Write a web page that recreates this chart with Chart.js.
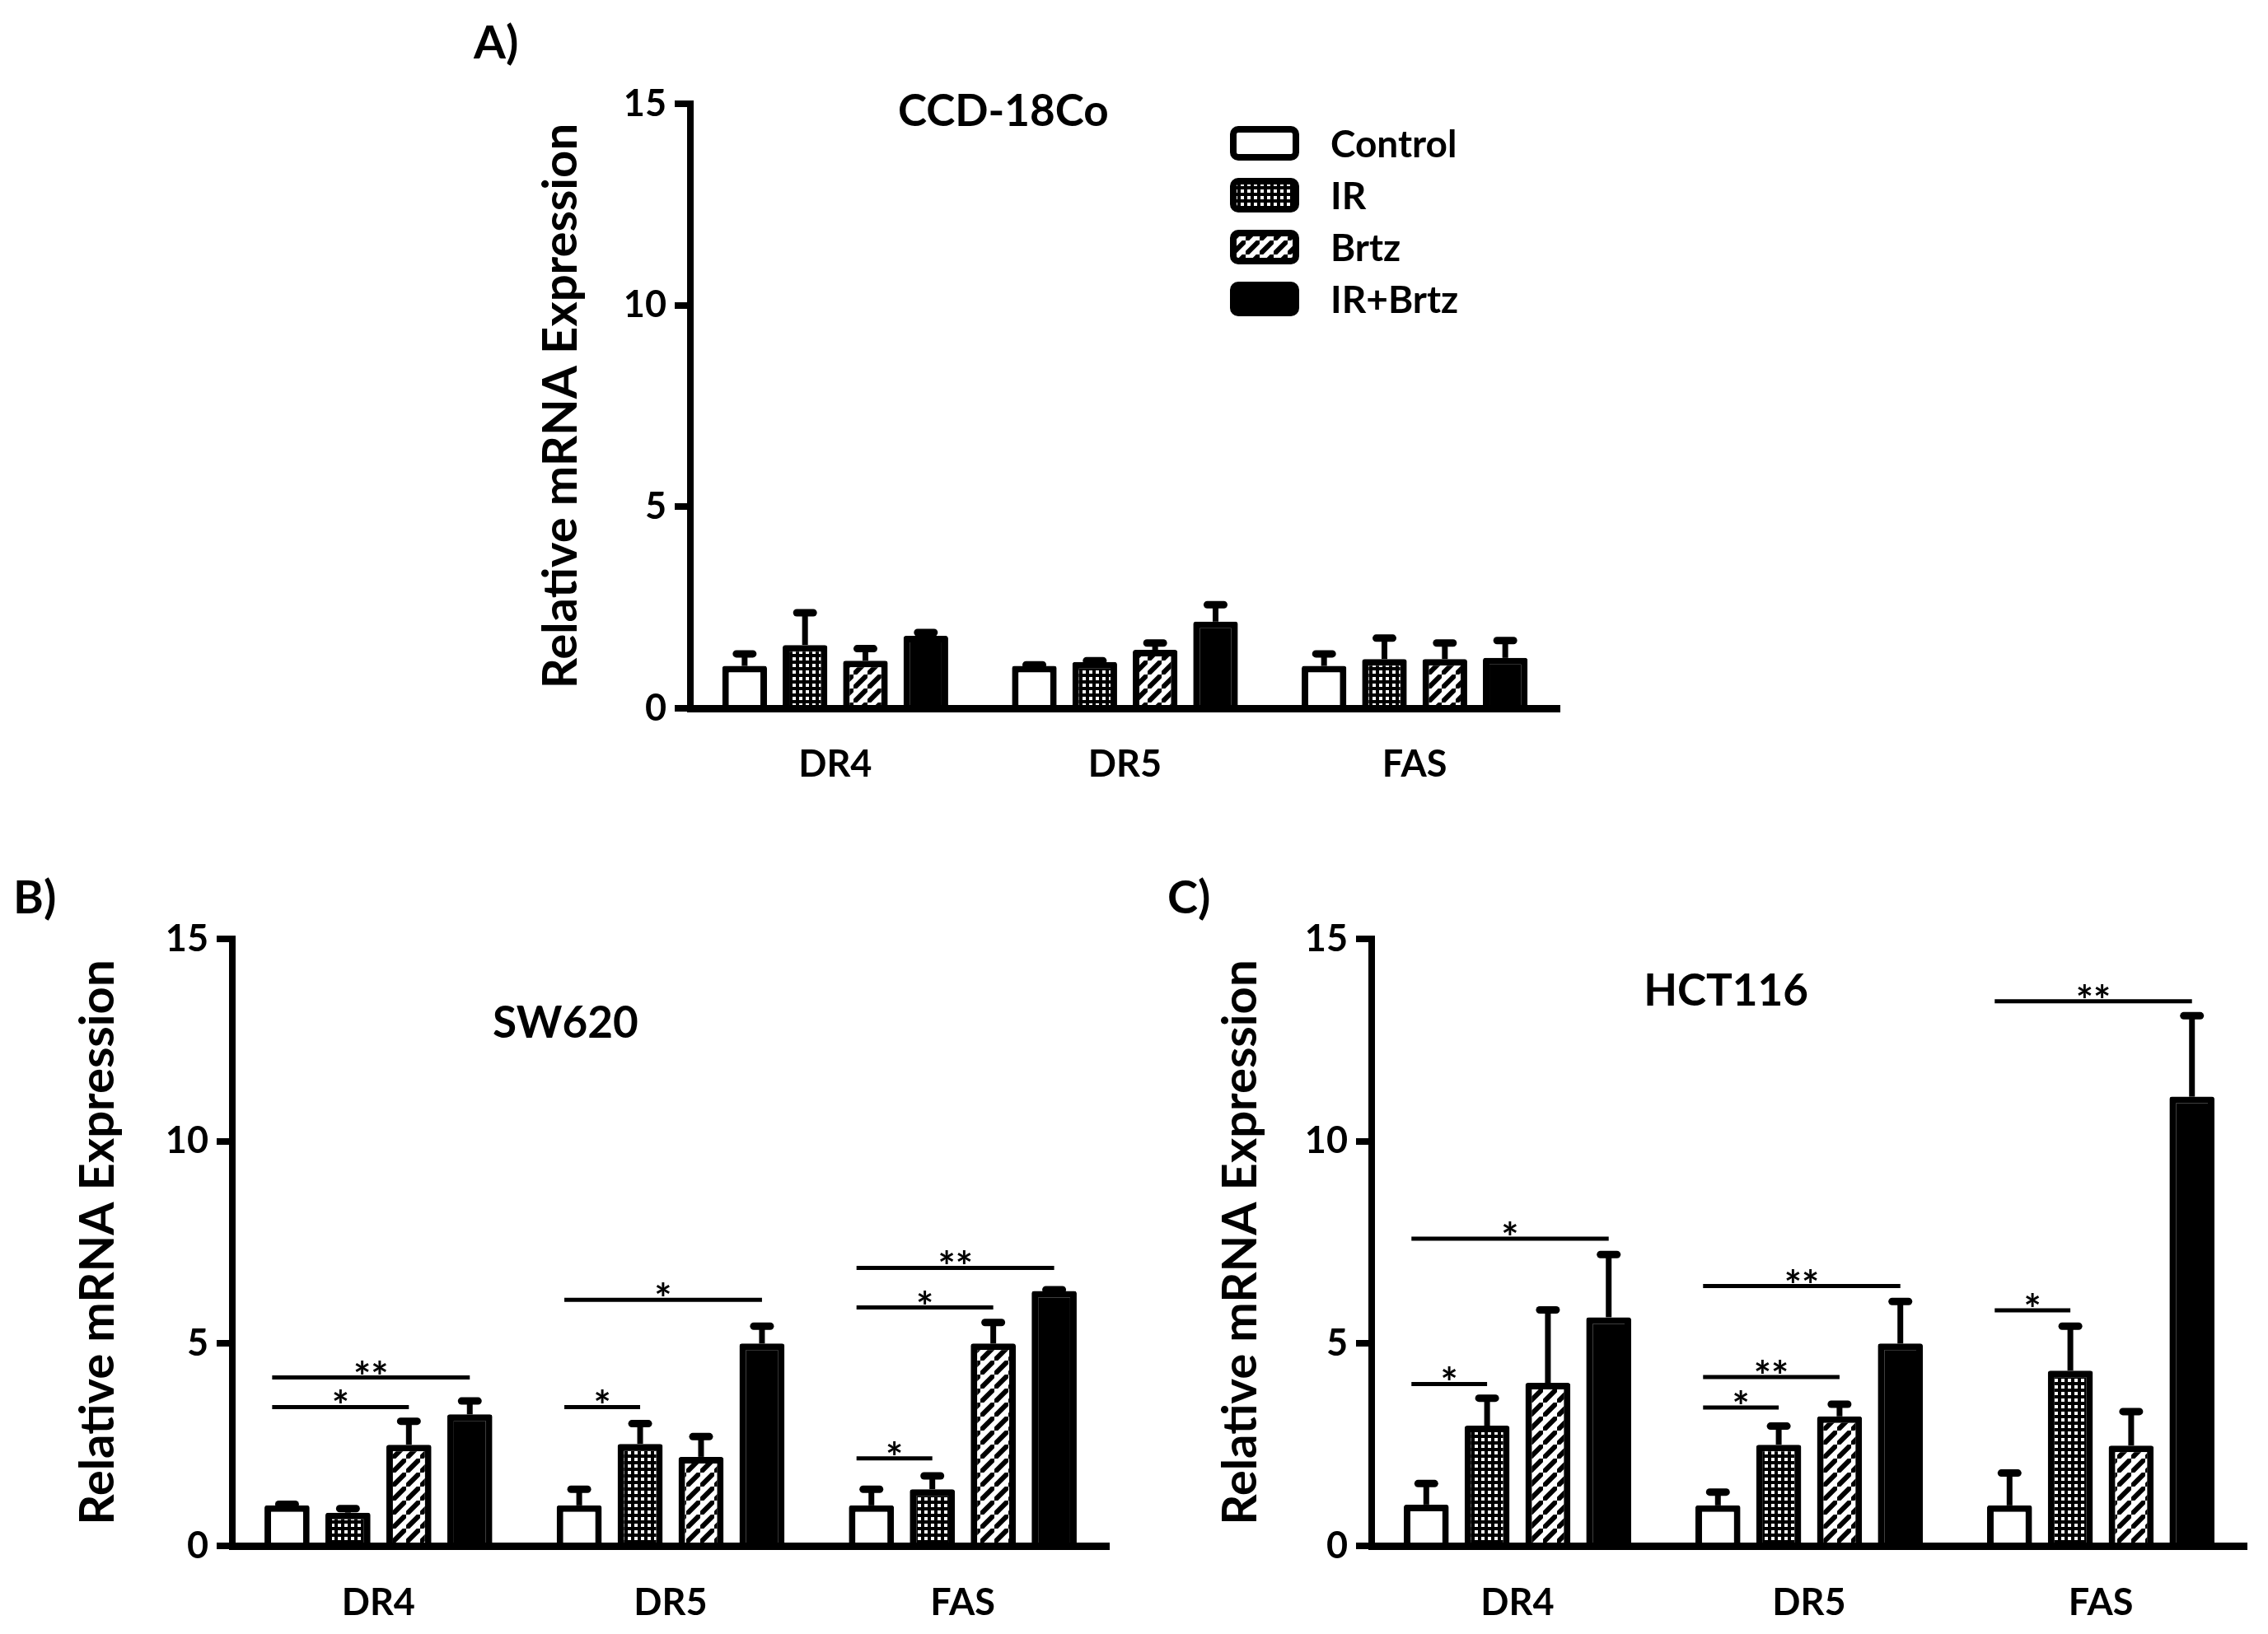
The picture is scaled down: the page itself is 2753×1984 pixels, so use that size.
<!DOCTYPE html>
<html>
<head>
<meta charset="utf-8">
<script src="https://cdn.jsdelivr.net/npm/chart.js@4.4.1/dist/chart.umd.min.js"></script>
<style>
html, body { margin: 0; padding: 0; background: #fff; }
body { width: 2753px; height: 1984px; position: relative; overflow: hidden; }
canvas { position: absolute; }
.panel { position: absolute; font: bold 56px Lato, sans-serif; color: #000; line-height: 1; }
</style>
</head>
<body>
<div class="panel" style="left:575px;top:22px">A)</div>
<div class="panel" style="left:16px;top:1060px">B)</div>
<div class="panel" style="left:1417px;top:1060px">C)</div>
<canvas id="chartA" width="1380" height="960" style="left:560px;top:20px"></canvas>
<canvas id="chartB" width="1380" height="944" style="left:0px;top:1040px"></canvas>
<canvas id="chartC" width="1373" height="944" style="left:1380px;top:1040px"></canvas>
<script>
const categories = ['DR4', 'DR5', 'FAS'];
const treatments = ['Control', 'IR', 'Brtz', 'IR+Brtz'];
const yTicks = [0, 5, 10, 15];
const cellLines = ['CCD-18Co', 'SW620', 'HCT116'];

// one row per treatment (Control, IR, Brtz, IR+Brtz), one value per gene
const ccdMean = [
    [1.05, 1.05, 1.05],
    [1.57, 1.15, 1.22],
    [1.18, 1.45, 1.22],
    [1.80, 2.15, 1.25]
];
const ccdErr = [
    [0.30, 0.03, 0.30],
    [0.80, 0.03, 0.52],
    [0.30, 0.17, 0.40],
    [0.08, 0.42, 0.43]
];

const swMean = [
    [1.00, 1.00, 1.00],
    [0.82, 2.52, 1.40],
    [2.50, 2.20, 5.00],
    [3.25, 5.00, 6.30]
];
const swErr = [
    [0.03, 0.40, 0.40],
    [0.10, 0.50, 0.33],
    [0.58, 0.50, 0.52],
    [0.33, 0.43, 0.03]
];

const hctMean = [
    [1.02, 1.00, 1.00],
    [2.97, 2.50, 4.33],
    [4.03, 3.20, 2.48],
    [5.65, 5.00, 11.10]
];
const hctErr = [
    [0.52, 0.33, 0.80],
    [0.68, 0.46, 1.10],
    [1.80, 0.30, 0.84],
    [1.55, 1.04, 2.00]
];

// significance: [gene index, from treatment, to treatment, height, label]
const swSig = [
    [0, 0, 2, 3.43, '*'],
    [0, 0, 3, 4.16, '**'],
    [1, 0, 1, 3.43, '*'],
    [1, 0, 3, 6.08, '*'],
    [2, 0, 1, 2.16, '*'],
    [2, 0, 2, 5.89, '*'],
    [2, 0, 3, 6.87, '**']
];
const hctSig = [
    [0, 0, 1, 4.00, '*'],
    [0, 0, 3, 7.59, '*'],
    [1, 0, 1, 3.42, '*'],
    [1, 0, 2, 4.17, '**'],
    [1, 0, 3, 6.42, '**'],
    [2, 0, 1, 5.82, '*'],
    [2, 0, 3, 13.46, '**']
];

const FONT = 'Lato, sans-serif';

function makeFills(ctx) {
    // IR: black with a grid of light dots
    const dot = document.createElement('canvas');
    dot.width = 8; dot.height = 8;
    const d = dot.getContext('2d');
    d.fillStyle = '#000';
    d.fillRect(0, 0, 8, 8);
    d.fillStyle = '#fff';
    d.fillRect(2, 2, 4, 4);
    // Brtz: black diagonal stripes on white
    const hatch = document.createElement('canvas');
    hatch.width = 17; hatch.height = 17;
    const h = hatch.getContext('2d');
    h.fillStyle = '#fff';
    h.fillRect(0, 0, 17, 17);
    h.strokeStyle = '#000';
    h.lineWidth = 6;
    h.beginPath();
    h.moveTo(-4, 21); h.lineTo(21, -4);
    h.moveTo(-13, 4); h.lineTo(4, -13);
    h.moveTo(13, 30); h.lineTo(30, 13);
    h.stroke();
    return ['#fff', ctx.createPattern(dot, 'repeat'), ctx.createPattern(hatch, 'repeat'), '#000'];
}

const extrasPlugin = {
    id: 'extras',
    afterDatasetsDraw(chart, args, opts) {
        const ctx = chart.ctx;
        const yScale = chart.scales.y;
        const area = chart.chartArea;
        ctx.save();
        ctx.strokeStyle = '#000';
        ctx.fillStyle = '#000';

        // upper error bars
        opts.err.forEach((errs, i) => {
            const meta = chart.getDatasetMeta(i);
            meta.data.forEach((bar, j) => {
                const top = yScale.getPixelForValue(chart.data.datasets[i].data[j] + errs[j]);
                ctx.lineCap = 'butt';
                ctx.lineWidth = 7;
                ctx.beginPath();
                ctx.moveTo(bar.x, bar.y);
                ctx.lineTo(bar.x, top);
                ctx.stroke();
                ctx.lineCap = 'round';
                ctx.lineWidth = 9;
                ctx.beginPath();
                ctx.moveTo(bar.x - 10, top);
                ctx.lineTo(bar.x + 10, top);
                ctx.stroke();
            });
        });

        // significance lines
        ctx.lineCap = 'butt';
        ctx.font = 'bold 50px ' + FONT;
        ctx.textAlign = 'center';
        ctx.textBaseline = 'alphabetic';
        (opts.sig || []).forEach(([cat, from, to, val, label]) => {
            const a = chart.getDatasetMeta(from).data[cat];
            const b = chart.getDatasetMeta(to).data[cat];
            const x1 = a.x - a.width * 0.33;
            const x2 = b.x;
            const y = yScale.getPixelForValue(val);
            ctx.lineWidth = 5;
            ctx.beginPath();
            ctx.moveTo(x1, y);
            ctx.lineTo(x2, y);
            ctx.stroke();
            ctx.fillText(label, (x1 + x2) / 2, y + 17);
        });

        // cell line title inside the plot
        ctx.font = 'bold 53px ' + FONT;
        ctx.textBaseline = 'middle';
        ctx.fillText(opts.title, area.left + area.width * opts.titleX, yScale.getPixelForValue(opts.titleY));

        // legend
        if (opts.legend) {
            const bx = area.left + 655;
            chart.data.datasets.forEach((ds, i) => {
                const cy = area.top + 48 + i * 63;
                ctx.beginPath();
                ctx.roundRect(bx + 4, cy - 17, 76, 34, 6);
                ctx.fillStyle = ds.backgroundColor;
                ctx.fill();
                ctx.lineWidth = 8;
                ctx.stroke();
                ctx.fillStyle = '#000';
                ctx.font = 'bold 46px ' + FONT;
                ctx.textAlign = 'left';
                ctx.fillText(ds.label, bx + 122, cy + 2);
            });
        }
        ctx.restore();
    }
};

function makeChart(id, mean, err, sig, title, geom) {
    const canvas = document.getElementById(id);
    const fills = makeFills(canvas.getContext('2d'));
    return new Chart(canvas, {
        type: 'bar',
        data: {
            labels: categories,
            datasets: treatments.map((t, i) => ({
                label: t,
                data: mean[i],
                backgroundColor: fills[i],
                borderColor: '#000',
                borderWidth: 8,
                borderSkipped: 'start',
                borderRadius: 3,
                categoryPercentage: 0.834,
                barPercentage: 0.74
            }))
        },
        options: {
            responsive: false,
            animation: false,
            devicePixelRatio: 1,
            layout: { padding: geom.padding },
            plugins: {
                legend: { display: false },
                tooltip: { enabled: false },
                extras: { err, sig, title, titleX: geom.titleX, titleY: geom.titleY, legend: geom.legend }
            },
            scales: {
                x: {
                    z: 1,
                    grid: { display: false, drawTicks: false },
                    border: { display: true, color: '#000', width: 9 },
                    ticks: { color: '#000', font: { family: FONT, size: 45, weight: 'bold' }, padding: geom.xPad },
                    afterFit: s => { s.height = geom.xHeight; }
                },
                y: {
                    z: 1,
                    min: 0,
                    max: 15,
                    afterBuildTicks: s => { s.ticks = yTicks.map(v => ({ value: v })); },
                    ticks: { color: '#000', font: { family: FONT, size: 45, weight: 'bold' }, padding: 10 },
                    grid: { drawOnChartArea: false, drawTicks: true, tickLength: 19, lineWidth: 8, color: '#000' },
                    border: { display: true, color: '#000', width: 8 },
                    title: {
                        display: true,
                        text: 'Relative mRNA Expression',
                        color: '#000',
                        font: { family: FONT, size: 58, weight: 'bold' },
                        padding: { top: geom.titlePad, bottom: 0 }
                    },
                    afterFit: s => { s.width = geom.yWidth; }
                }
            }
        },
        plugins: [extrasPlugin]
    });
}

(async () => {
    try { await document.fonts.load('bold 40px Lato'); } catch (e) {}
    makeChart('chartA', ccdMean, ccdErr, [], cellLines[0], {
        padding: { left: 0, top: 106, right: 47, bottom: 0 },
        yWidth: 278, xHeight: 120, titlePad: 86, xPad: 41,
        titleX: 0.36, titleY: 14.8, legend: true
    });
    makeChart('chartB', swMean, swErr, swSig, cellLines[1], {
        padding: { left: 0, top: 100, right: 34, bottom: 0 },
        yWidth: 282, xHeight: 107, titlePad: 84, xPad: 42,
        titleX: 0.38, titleY: 12.9, legend: false
    });
    makeChart('chartC', hctMean, hctErr, hctSig, cellLines[2], {
        padding: { left: 0, top: 100, right: 26, bottom: 0 },
        yWidth: 285, xHeight: 107, titlePad: 91, xPad: 42,
        titleX: 0.405, titleY: 13.7, legend: false
    });
})();
</script>
</body>
</html>
